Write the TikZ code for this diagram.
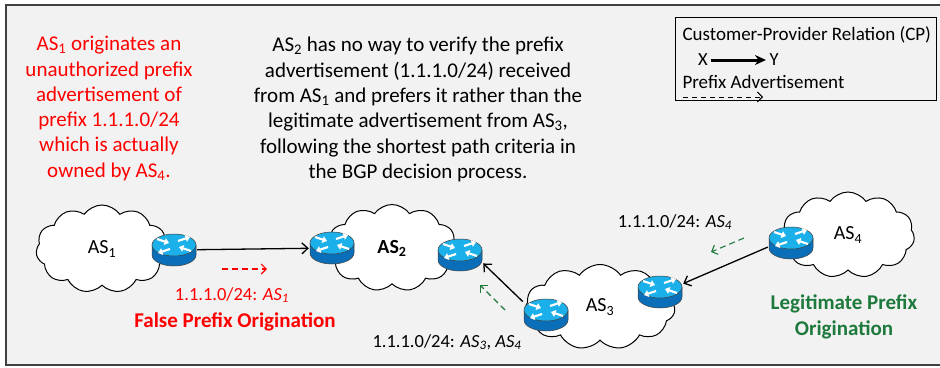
\documentclass[tikz,border=0pt]{standalone}
\usepackage{fontspec}
\setmainfont{Carlito}
\usepackage{xcolor}
\usetikzlibrary{shapes.symbols, arrows.meta}
\definecolor{bggray}{HTML}{F2F2F2}
\definecolor{framegray}{HTML}{404040}
\definecolor{falsered}{HTML}{FF0000}
\definecolor{legitgreen}{HTML}{1E7A3C}
\definecolor{routertop}{HTML}{1CB0EA}
\definecolor{routerside}{HTML}{0A6FB8}
\newcommand{\asn}[1]{AS\textsubscript{#1}}

\begin{document}
\begin{tikzpicture}[
  x=1pt, y=-1pt,
  note/.style={font=\fontsize{21}{25.3}\selectfont, align=center},
  lbl/.style={font=\fontsize{18.5}{21}\selectfont},
  asnode/.style={cloud, cloud puffs=11, cloud puff arc=110, cloud ignores aspect, draw, line width=1pt, fill=white, inner sep=0pt, minimum width=132pt, minimum height=88pt, font=\fontsize{20}{24}\selectfont},
  router/.style={minimum width=46pt, minimum height=34pt, inner sep=0pt,
    path picture={
      \begin{scope}[shift={(path picture bounding box.center)}]
        \filldraw[fill=routerside, draw=black!75, line width=0.5pt]
          (-22,-5) -- (-22,5) arc[start angle=180, end angle=0, x radius=22, y radius=11] -- (22,-5) -- cycle;
        \filldraw[fill=routertop, draw=black!75, line width=0.5pt] (0,-5) ellipse[x radius=22, y radius=11];
        \foreach \a/\b in {{-17,-11}/{-5,-7}, {17,1}/{5,-3}, {4,-9}/{16,-13}, {-4,-1}/{-16,3}}
          \draw[white, line width=2.2pt, -{Triangle[length=4.5pt, width=7pt]}] (\a) -- (\b);
      \end{scope}}},
  cp/.style={-{Straight Barb[length=6pt, width=11pt]}, line width=1.3pt},
  adv/.style={-{Straight Barb[length=5pt, width=10pt]}, line width=1.1pt, dash pattern=on 6pt off 4pt}
]
\clip (0,0) rectangle (940,367);
\fill[white] (0,0) rectangle (940,367);
\filldraw[fill=bggray, draw=framegray, line width=1.6pt] (6,5) rectangle (960,365);

\node[note, text=falsered] (note1) at (109,108.5) {\asn{1} originates an\\unauthorized prefix\\advertisement of\\prefix 1.1.1.0/24\\which is actually\\owned by \asn{4}.};
\node[note] (note2) at (418,109.5) {\asn{2} has no way to verify the prefix\\advertisement (1.1.1.0/24) received\\from \asn{1} and prefers it rather than the\\legitimate advertisement from \asn{3},\\following the shortest path criteria in\\the BGP decision process.};

\draw[line width=0.9pt] (675,17) rectangle (936,100);
\node[lbl, anchor=west, font=\fontsize{19}{21}\selectfont] (cptitle) at (679,35) {Customer-Provider Relation (CP)};
\node[lbl] (lx) at (703,60) {X};
\node[lbl] (ly) at (774,60) {Y};
\draw[-{Stealth[length=11pt, width=10pt]}, line width=3pt] (lx) -- (ly);
\node[lbl, anchor=west, font=\fontsize{19}{21}\selectfont] (advtitle) at (679,82) {Prefix Advertisement};
\coordinate (ls) at (683,97);
\coordinate (le) at (763,97);
\draw[adv, line width=1pt, dash pattern=on 5pt off 4pt] (ls) -- (le);

\node[asnode] (as1) at (102,249) {\asn{1}};
\node[asnode, minimum width=130pt, minimum height=87pt] (as2) at (392,248) {\textbf{\asn{2}}};
\node[asnode, minimum width=150pt, minimum height=85pt] (as3) at (600,307) {\asn{3}};
\node[asnode, minimum width=133pt, minimum height=86pt] (as4) at (848,235) {\asn{4}};

\node[router] (r1) at (174,250) {};
\node[router] (r2) at (332,248) {};
\node[router] (r3) at (460,255) {};
\node[router] (r4) at (546,315) {};
\node[router] (r5) at (660,292) {};
\node[router] (r6) at (791,243) {};

\draw[cp] (r1) -- (r2);
\draw[cp] (r4.150) -- (r3.-20);
\draw[cp] (r6.190) -- (r5.20);

\coordinate (f1) at (222,269);
\coordinate (f2) at (267,269);
\draw[adv, falsered] (f1) -- (f2);
\coordinate (g1) at (744,238);
\coordinate (g2) at (711,252);
\draw[adv, legitgreen] (g1) -- (g2);
\coordinate (g3) at (505,310);
\coordinate (g4) at (480,285);
\draw[adv, legitgreen] (g3) -- (g4);

\node[lbl, text=falsered] (lab1) at (232,295) {1.1.1.0/24: \textit{\asn{1}}};
\node[note, text=falsered] (falseorig) at (235,322) {\textbf{False Prefix Origination}};
\node[lbl] (lab3) at (447,342) {1.1.1.0/24: \textit{\asn{3}}, \textit{\asn{4}}};
\node[lbl] (lab4) at (675,222) {1.1.1.0/24: \textit{\asn{4}}};
\node[note, text=legitgreen] (legit) at (844,317) {\textbf{Legitimate Prefix}\\\textbf{Origination}};
\end{tikzpicture}
\end{document}
